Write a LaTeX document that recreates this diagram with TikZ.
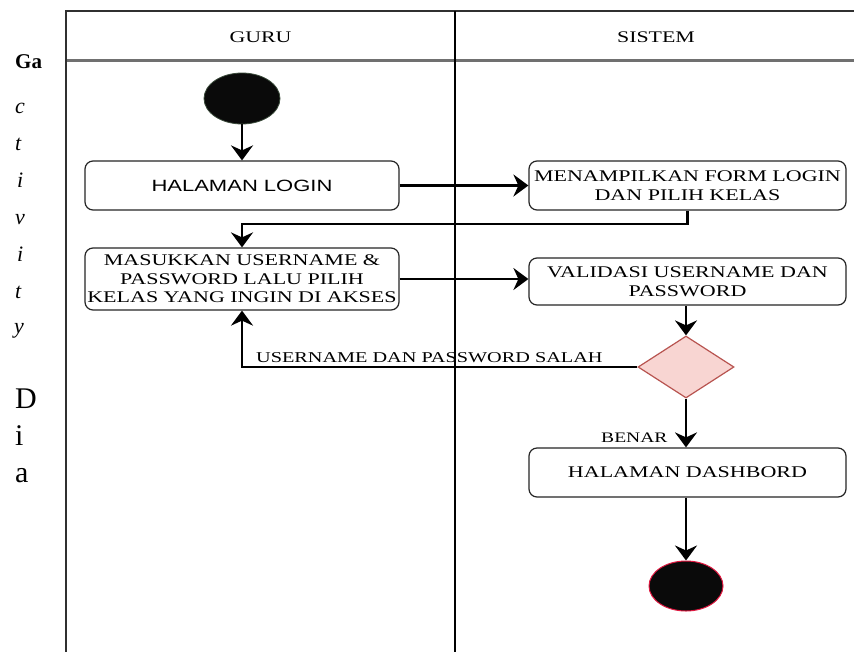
\documentclass[tikz,border=0pt]{standalone}
\usepackage{fontspec}
\setmainfont{Liberation Serif}
\newfontfamily\wserif{Liberation Serif}[FakeStretch=1.35]
\newfontfamily\wsans{Liberation Sans}[FakeStretch=1.35]
\usetikzlibrary{arrows.meta,shapes.geometric,calc}
\definecolor{framec}{HTML}{303030}
\definecolor{hdrline}{HTML}{707070}
\definecolor{decfill}{HTML}{F8D5D2}
\definecolor{decdraw}{HTML}{B85450}
\definecolor{endred}{HTML}{E01840}
\definecolor{startgr}{HTML}{3A4A3A}
\tikzset{
  actbox/.style={draw=black!85, line width=1.2pt, rounded corners=8pt, fill=white,
    inner sep=0pt, align=center, font=\wserif\fontsize{16.3}{18.5}\selectfont},
  arr/.style={line width=2.5pt, -{Stealth[length=15pt,width=22pt,inset=5pt]}},
  lbl/.style={inner sep=0pt, font=\wserif\fontsize{15}{17}\selectfont},
  hdr/.style={inner sep=0pt, font=\wserif\fontsize{16.2}{18}\selectfont},
  sideit/.style={inner sep=0pt, anchor=base west, font=\fontsize{22}{24}\selectfont\itshape},
  sideup/.style={inner sep=0pt, anchor=base west, font=\fontsize{30}{32}\selectfont},
}
\begin{document}
\begin{tikzpicture}[x=1pt,y=-1pt]
\useasboundingbox (0,0) rectangle (854,651);
\fill[white] (0,0) rectangle (854,651);
% side text
\begin{scope}
\clip (0,0) rectangle (45,120);
\node[inner sep=0pt, anchor=base west, font=\fontsize{21}{24}\selectfont\bfseries] (ga) at (15,68) {Ga};
\end{scope}
\node[sideit] (s1) at (15,113) {c};
\node[sideit] (s2) at (15,150) {t};
\node[sideit] (s3) at (17,187) {i};
\node[sideit] (s4) at (15,224) {v};
\node[sideit] (s5) at (17,261) {i};
\node[sideit] (s6) at (15,298) {t};
\node[sideit] (s7) at (14,333) {y};
\node[sideup] (s8) at (15,408) {D};
\node[sideup] (s9) at (15,445) {i};
\node[sideup] (s10) at (15,482) {a};
% swimlane frame
\draw[framec, line width=2pt] (66,700) -- (66,11) -- (860,11);
\draw[hdrline, line width=2.5pt] (67,60.5) -- (860,60.5);
\draw[black, line width=2pt] (455,11) -- (455,700);
\node[hdr, anchor=base] (guru) at (260.5,42) {GURU};
\node[hdr, anchor=base] (sistem) at (656,42) {SISTEM};
% nodes
\node[ellipse, fill=black!96, draw=startgr, line width=0.8pt, minimum width=76pt, minimum height=51pt, inner sep=0pt] (start) at (242,98.5) {};
\node[actbox, minimum width=314pt, minimum height=49pt, font=\wsans\fontsize{16.3}{18.5}\selectfont] (login) at (242,185.5) {HALAMAN LOGIN};
\node[actbox, minimum width=317pt, minimum height=49pt] (form) at (687.5,185.5) {MENAMPILKAN FORM LOGIN\\DAN PILIH KELAS};
\node[actbox, minimum width=314pt, minimum height=62pt] (masuk) at (242,279) {MASUKKAN USERNAME \&\\PASSWORD LALU PILIH\\KELAS YANG INGIN DI AKSES};
\node[actbox, minimum width=317pt, minimum height=47pt] (valid) at (687.5,281.5) {VALIDASI USERNAME DAN\\PASSWORD};
\node[diamond, fill=decfill, draw=decdraw, line width=1.2pt, minimum width=96pt, minimum height=62pt, inner sep=0pt] (dec) at (686,367) {};
\node[actbox, minimum width=317pt, minimum height=49pt] (dash) at (687.5,472.5) {HALAMAN DASHBORD};
\node[ellipse, fill=black!96, draw=endred, line width=1pt, minimum width=74pt, minimum height=50pt, inner sep=0pt] (end) at (686,586) {};
\coordinate (c1) at (242,224);
% connectors
\draw[arr] (start) -- (login);
\draw[arr] (login.east) -- (form.west);
\draw[arr] (form.south) |- (c1) -- (masuk.north);
\draw[arr] (masuk.east) -- (masuk.east -| valid.west);
\draw[arr] (valid.south -| dec.north) -- (dec.north);
\draw[arr] (dec.west) -| (masuk.south);
\draw[arr] (dec.south) -- (dec.south |- dash.north);
\draw[arr] (dash.south -| end.north) -- (end.north);
% labels
\node[lbl, anchor=base west] (salah) at (256,362) {USERNAME DAN PASSWORD SALAH};
\node[lbl, anchor=base west, font=\wserif\fontsize{14.5}{17}\selectfont] (benar) at (601,442) {BENAR};
\end{tikzpicture}
\end{document}
